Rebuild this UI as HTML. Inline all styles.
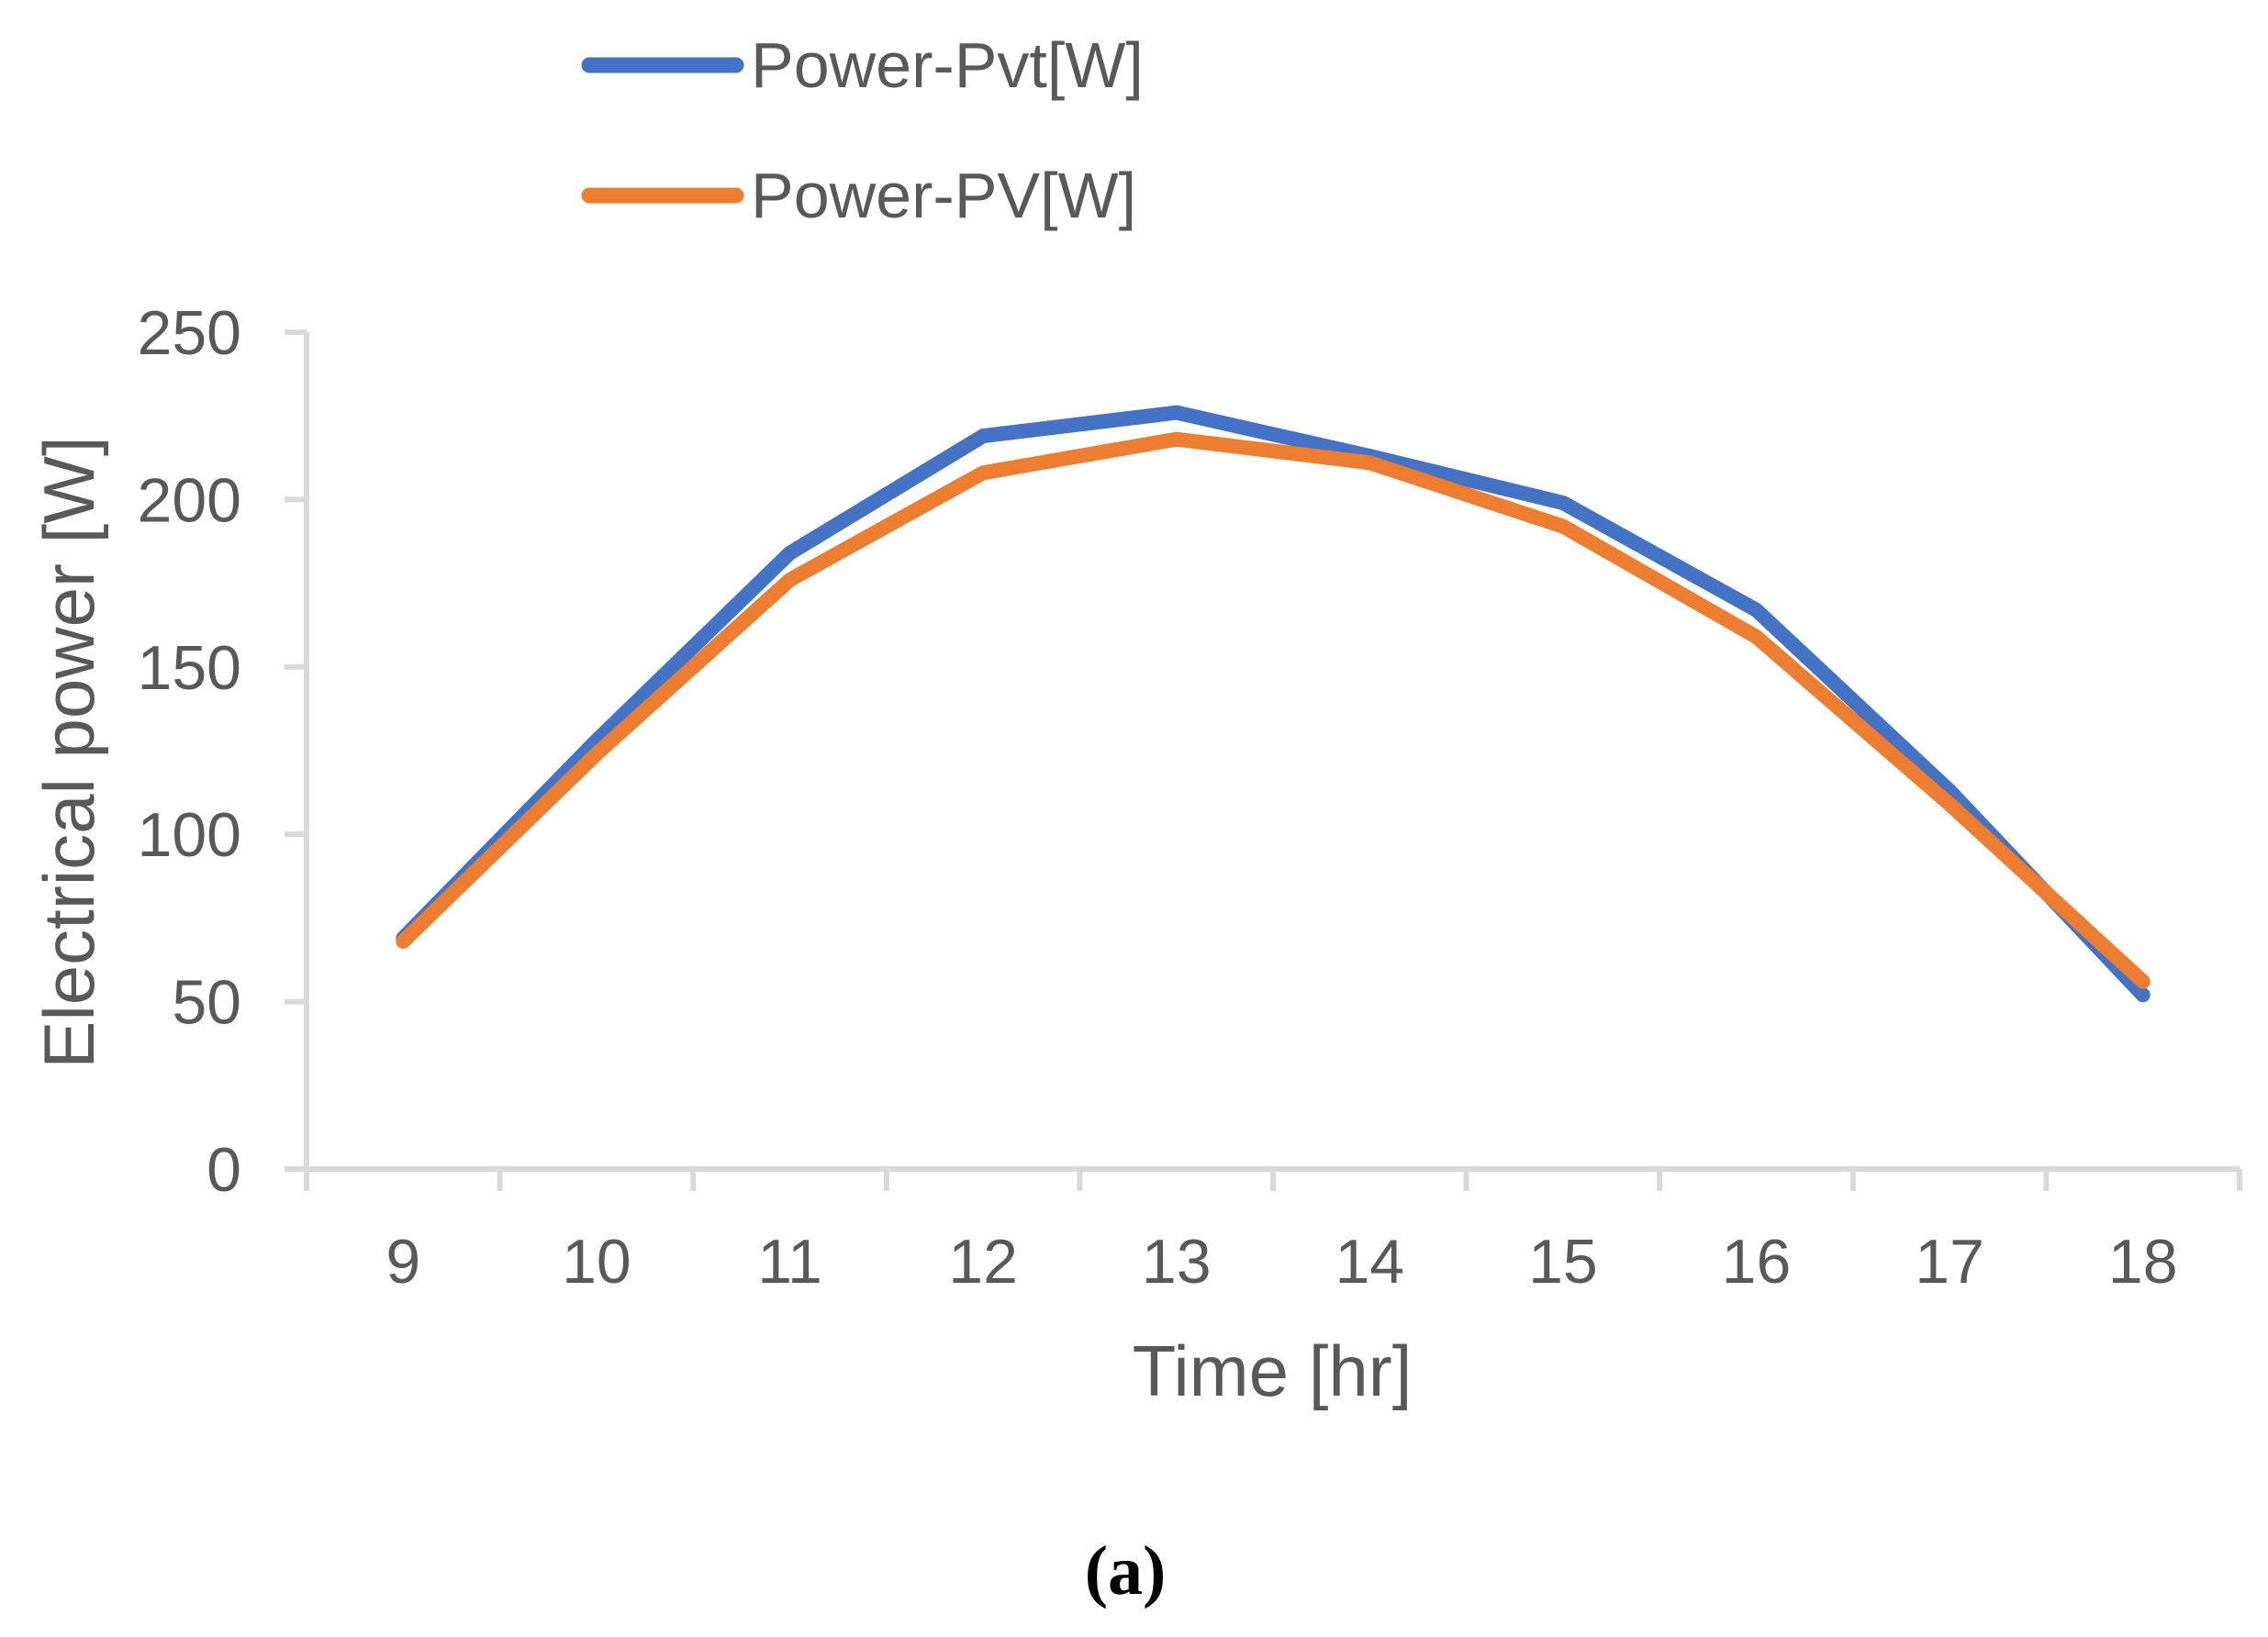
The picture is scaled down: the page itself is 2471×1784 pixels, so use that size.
<!DOCTYPE html>
<html><head><meta charset="utf-8"><style>
html,body{margin:0;padding:0;background:#fff;}
svg{display:block;}
text{font-family:"Liberation Sans",sans-serif;fill:#595959;}
</style></head><body>
<svg id="chart" width="2471" height="1784" viewBox="0 0 2471 1784" xmlns="http://www.w3.org/2000/svg">
<g id="legend">
 <g>
  <line x1="642" y1="71" x2="802" y2="71" stroke="#4472C4" stroke-width="17" stroke-linecap="round"/>
  <text x="818" y="95" font-size="70">Power-Pvt[W]</text>
 </g>
 <g>
  <line x1="642" y1="213" x2="802" y2="213" stroke="#ED7D31" stroke-width="17" stroke-linecap="round"/>
  <text x="818" y="237" font-size="70">Power-PV[W]</text>
 </g>
</g>
<g id="axes"></g>
<g id="series"></g>
<text transform="translate(102,820) rotate(-90)" text-anchor="middle" font-size="78">Electrical power [W]</text>
<text x="1386" y="1521" text-anchor="middle" font-size="78">Time [hr]</text>
<text x="1226" y="1737" text-anchor="middle" font-size="76" font-weight="bold" style="font-family:'Liberation Serif',serif;fill:#000">(a)</text>
</svg>
<script>
const categories = ["9","10","11","12","13","14","15","16","17","18"];
const pvtValues = [69, 128, 184, 219, 226, 213, 199, 167, 113, 52];
const pvValues = [68, 124, 176, 208, 218, 211, 192, 159, 109, 56];
const yTicks = [0, 50, 100, 150, 200, 250];

const NS = "http://www.w3.org/2000/svg";
const left = 334, right = 2440, y0 = 1274, yTop = 362, yMax = 250;
const band = (right - left) / categories.length;
function xPos(i){ return left + band * (i + 0.5); }
function yPos(v){ return y0 - (v / yMax) * (y0 - yTop); }
function mk(tag, attrs){ const e = document.createElementNS(NS, tag); for (const k in attrs) e.setAttribute(k, attrs[k]); return e; }

const axes = document.getElementById('axes');
const yAxis = mk('line', {x1:left, y1:yTop, x2:left, y2:y0, stroke:'#D9D9D9', 'stroke-width':6});


axes.appendChild(yAxis);
const xAxis = mk('line', {x1:left-24, y1:y0, x2:right, y2:y0, stroke:'#D9D9D9', 'stroke-width':6});


axes.appendChild(xAxis);

yTicks.forEach(v => {
  const y = yPos(v);
  const t = mk('line', {x1:left-24, y1:y, x2:left, y2:y, stroke:'#D9D9D9', 'stroke-width':6});
  
  
  axes.appendChild(t);
  const l = mk('text', {x:263, y:y+24, 'text-anchor':'end', 'font-size':68});
  l.textContent = v;
  
  
  axes.appendChild(l);
});
for (let i = 0; i <= categories.length; i++) {
  const x = left + band * i;
  const t = mk('line', {x1:x, y1:y0, x2:x, y2:y0+24, stroke:'#D9D9D9', 'stroke-width':6});
  
  
  axes.appendChild(t);
}
categories.forEach((c, i) => {
  const l = mk('text', {x:xPos(i), y:1398, 'text-anchor':'middle', 'font-size':68});
  l.textContent = c;
  
  
  axes.appendChild(l);
});

const series = document.getElementById('series');
function drawLine(vals, color, name){
  const pts = vals.map((v, i) => xPos(i).toFixed(1) + ',' + yPos(v).toFixed(1)).join(' ');
  const p = mk('polyline', {points:pts, fill:'none', stroke:color, 'stroke-width':16, 'stroke-linecap':'round', 'stroke-linejoin':'round'});
  
  
  series.appendChild(p);
}
drawLine(pvtValues, '#4472C4', 'line-power-pvt');
drawLine(pvValues, '#ED7D31', 'line-power-pv');
</script>
</body></html>
